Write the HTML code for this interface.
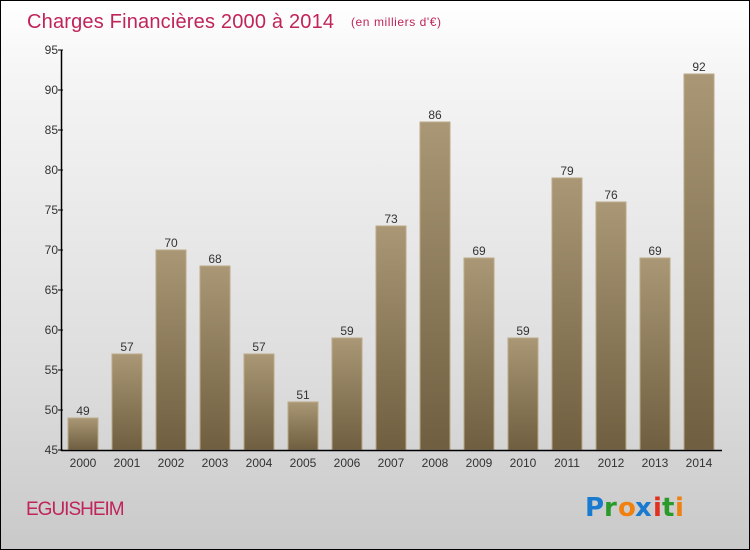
<!DOCTYPE html>
<html><head><meta charset="utf-8"><style>
body{margin:0}
#c{position:relative;width:748px;height:548px;border:1px solid #000;background:linear-gradient(#fff,#f4f4f4 15%,#dcdcdc 70%,#c9c9c9);font-family:"Liberation Sans",sans-serif;overflow:hidden}
</style></head><body>
<div id="c">
<svg id="s" width="748" height="548">
<defs><linearGradient id="g" x1="0" y1="0" x2="0" y2="1"><stop offset="0" stop-color="#a99775"/><stop offset="1" stop-color="#6f5f40"/></linearGradient></defs>
<text x="26" y="27" font-size="20" fill="#c0245a" textLength="307">Charges Financières 2000 à 2014</text>
<text x="350" y="25" font-size="12" fill="#c0245a" textLength="90">(en milliers d'€)</text>
<text x="25" y="514" font-size="19" fill="#c0245a" letter-spacing="-1">EGUISHEIM</text>
<g font-size="26" font-weight="bold" font-family="'DejaVu Sans',sans-serif"><text x="584" y="515" fill="#1a7ad0">P</text><text x="603" y="515" fill="#2a9a2a">r</text><text x="617" y="515" fill="#f08010">o</text><text x="634" y="515" fill="#1a7ad0">x</text><text x="652" y="515" fill="#e03020">i</text><text x="661" y="515" fill="#2a9a2a">t</text><text x="674" y="515" fill="#f08010">i</text></g>
<g id="plot"></g>
</svg>
</div>
<script>
const years=["2000","2001","2002","2003","2004","2005","2006","2007","2008","2009","2010","2011","2012","2013","2014"];
const values=[49,57,70,68,57,51,59,73,86,69,59,79,76,69,92];
const ticks=[45,50,55,60,65,70,75,80,85,90,95];
const NS="http://www.w3.org/2000/svg";
const g=document.getElementById('plot');
const y=v=>449-(v-45)*8;
const x=i=>82+i*44;
function mk(t,a){const e=document.createElementNS(NS,t);for(const k in a)e.setAttribute(k,a[k]);g.appendChild(e);return e;}
values.forEach((v,i)=>{
 const r=mk('rect',{x:x(i)-15,y:y(v),width:30,height:y(45)-y(v),fill:'url(#g)',stroke:'#bba988','stroke-width':1});
 
 
 const t=mk('text',{x:x(i),y:y(v)-3,'text-anchor':'middle','font-size':12,fill:'#333'});t.textContent=v;
 
 
 const xl=mk('text',{x:x(i),y:466,'text-anchor':'middle','font-size':12,fill:'#333'});xl.textContent=years[i];
 
 
});
ticks.forEach(v=>{
 const l=mk('line',{x1:57,x2:62,y1:y(v),y2:y(v),stroke:'#000'});
 
 
 const t=mk('text',{x:57,y:y(v)+4,'text-anchor':'end','font-size':12,fill:'#333'});t.textContent=v;
 
 
});
const ya=mk('line',{x1:60.5,x2:60.5,y1:y(95),y2:y(45)+1,stroke:'#000','stroke-width':1.5});


const xa=mk('line',{x1:60,x2:721,y1:y(45)+0.5,y2:y(45)+0.5,stroke:'#000','stroke-width':1.5});


</script>
</body></html>
